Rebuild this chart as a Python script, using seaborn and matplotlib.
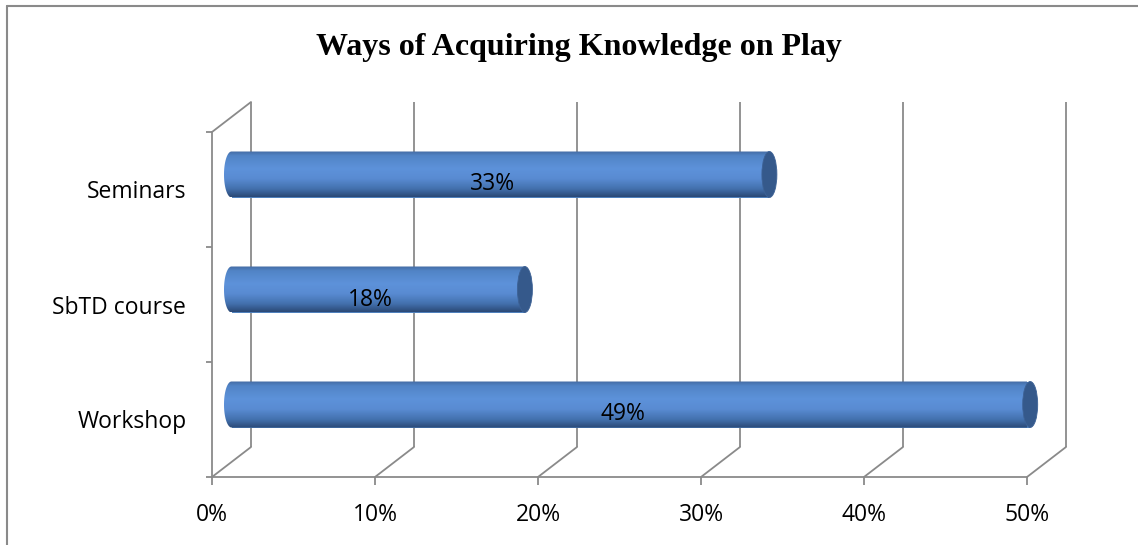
import numpy as np
import matplotlib
matplotlib.use("Agg")
import matplotlib.pyplot as plt
import matplotlib.transforms as mtransforms
from matplotlib.path import Path
from matplotlib.patches import PathPatch, Ellipse
from matplotlib.lines import Line2D
from matplotlib.colors import to_rgb
import seaborn as sns

# chart data
categories = ["Seminars", "SbTD course", "Workshop"]
values = [33, 18, 49]
value_labels = ["33%", "18%", "49%"]
x_ticks = [0, 10, 20, 30, 40, 50]
x_tick_labels = ["0%", "10%", "20%", "30%", "40%", "50%"]
title = "Ways of Acquiring Knowledge on Play"

W, H, DPI = 1138, 545, 100
grid = "#8a8a8a"
glw = 1.3
fs = 16.5

sns.set_theme(style="white")
plt.rcParams["font.family"] = ["Open Sans", "DejaVu Sans"]

fig = plt.figure(figsize=(W / DPI, H / DPI), dpi=DPI)
ax = fig.add_axes([212 / W, 68 / H, 815 / W, 345 / H])

sns.barplot(x=values, y=categories, orient="h", width=0.4, color="#4f81bd",
            saturation=1, ax=ax, zorder=2)
ax.set_xlim(0, 50)
ax.set_ylim(2.5, -0.5)


def shifted(dx, dy):
    # pseudo-3D depth offset in pixels
    return ax.transData + mtransforms.ScaledTranslation(dx / DPI, dy / DPI, fig.dpi_scale_trans)


back = shifted(39, 30)
mid = shifted(19.5, 15)
lab = shifted(12, 5)

# back wall gridlines
ax.vlines(x_ticks, -0.5, 2.5, colors=grid, lw=glw, transform=back, zorder=0, clip_on=False)

# floor diagonals + top-left diagonal
inv = ax.transData.inverted()
for t in x_ticks:
    bx, by = inv.transform(back.transform((t, 2.5)))
    ax.plot([t, bx], [2.5, by], color=grid, lw=glw, zorder=0, clip_on=False)
bx, by = inv.transform(back.transform((0, -0.5)))
ax.plot([0, bx], [-0.5, by], color=grid, lw=glw, zorder=0, clip_on=False)

# cylinder shading
stops = [0.0, 0.1, 0.38, 0.6, 0.82, 1.0]
cols = ["#446ba3", "#5184c6", "#5d92da", "#598bd2", "#4371ae", "#2b4976"]
rgb = np.array([to_rgb(c) for c in cols])
yy = np.linspace(0, 1, 120)
grad = np.stack([np.interp(yy, stops, rgb[:, k]) for k in range(3)], axis=-1)[:, None, :]

a = 0.46  # half-width of end ellipse in data units
theta = np.linspace(np.pi / 2, 3 * np.pi / 2, 60)
for p in ax.patches[:len(values)]:
    p.set_transform(mid)
    p.set_edgecolor("none")
    p.set_clip_on(False)
    y0, h, v = p.get_y(), p.get_height(), p.get_width()
    yc = y0 + h / 2
    verts = [(0, y0), (v, y0), (v, y0 + h), (0, y0 + h)]
    verts += list(zip(a * np.cos(theta), yc + h / 2 * np.sin(theta)))
    verts.append((0, y0))
    clip = PathPatch(Path(verts, closed=True), transform=mid)
    im = ax.imshow(grad, extent=(-a, v, y0 + h, y0), aspect="auto",
                   transform=mid, zorder=2.1, interpolation="bilinear")
    im.set_clip_path(clip)
    im.set_clip_box(None)
    ax.add_patch(Ellipse((v, yc), 2 * a, h, transform=mid, facecolor="#35598b",
                         edgecolor="#3d6296", lw=0.6, zorder=2.2, clip_on=False))

ax.set_xlim(0, 50)
ax.set_ylim(2.5, -0.5)

for i, (v, s) in enumerate(zip(values, value_labels)):
    ax.text(v / 2, i, s, transform=lab, ha="center", va="center",
            fontsize=fs, color="black", zorder=5)

# axes styling
for side in ["top", "right"]:
    ax.spines[side].set_visible(False)
for side in ["left", "bottom"]:
    ax.spines[side].set_color(grid)
    ax.spines[side].set_linewidth(glw)
ax.set_xticks(x_ticks, x_tick_labels)
ax.set_yticks([0, 1, 2], categories)
ax.set_yticks([-0.5, 0.5, 1.5, 2.5], minor=True)
ax.tick_params(axis="x", bottom=True, length=6, width=glw, color=grid, pad=13,
               labelsize=fs, labelcolor="black")
ax.tick_params(axis="y", which="major", left=False, length=0, pad=18.5,
               labelsize=fs, labelcolor="black")
ax.tick_params(axis="y", which="minor", left=True, length=4, width=glw, color=grid)
ax.set_xlabel("")
ax.set_ylabel("")
ax.set_facecolor("none")

fig.text(579 / W, 1 - 55 / H, title, ha="center", va="baseline", fontsize=23,
         fontweight="bold", color="black", family=["Liberation Serif", "DejaVu Serif"])

# chart frame
fig.add_artist(Line2D([7 / W, 7 / W], [0, 1 - 6 / H], transform=fig.transFigure, color=grid, lw=1.5))
fig.add_artist(Line2D([7 / W, 1], [1 - 6 / H, 1 - 6 / H], transform=fig.transFigure, color=grid, lw=1.5))

fig.savefig("out.png", dpi=DPI)
